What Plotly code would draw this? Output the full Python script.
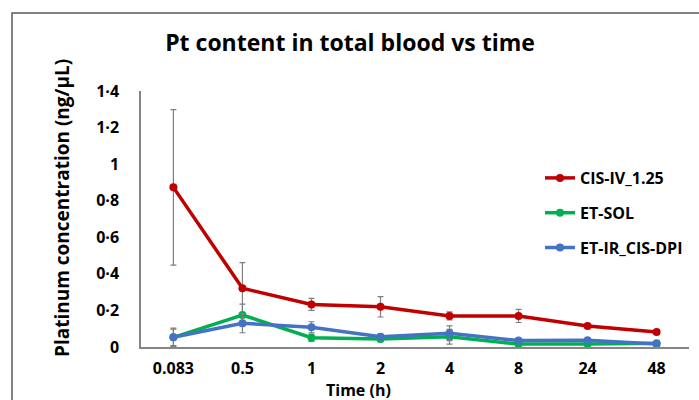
import plotly.graph_objects as go

time_labels = ["0.083", "0.5", "1", "2", "4", "8", "24", "48"]
series_names = ["CIS-IV_1.25", "ET-SOL", "ET-IR_CIS-DPI"]
cis_iv = [0.873, 0.321, 0.233, 0.220, 0.170, 0.170, 0.115, 0.082]
cis_iv_err = [0.425, 0.14, 0.033, 0.056, 0.022, 0.036, 0.008, 0.006]
et_sol = [0.053, 0.175, 0.051, 0.044, 0.056, 0.016, 0.016, 0.020]
et_sol_err = [0.045, 0.06, 0.02, 0.015, 0.04, 0.008, 0.006, 0.005]
et_ir = [0.053, 0.130, 0.108, 0.056, 0.075, 0.035, 0.037, 0.016]
et_ir_err = [0.05, 0.052, 0.03, 0.015, 0.04, 0.008, 0.006, 0.005]
y_tickvals = [0, 0.2, 0.4, 0.6, 0.8, 1.0, 1.2, 1.4]
y_ticktext = ["0", "0·2", "0·4", "0·6", "0·8", "1", "1·2", "1·4"]

colors = ["#C00000", "#00B050", "#4472C4"]
values = [cis_iv, et_sol, et_ir]
errors = [cis_iv_err, et_sol_err, et_ir_err]

FONT = "Open Sans"
fig = go.Figure()
for i, (name, ys, es, c) in enumerate(zip(series_names, values, errors, colors)):
    fig.add_trace(go.Scatter(
        x=time_labels, y=ys, name="<b>%s</b>" % name, mode="lines+markers",
        legendgroup="g%d" % i,
        line=dict(color=c, width=3.5),
        marker=dict(color=c, size=8),
        error_y=dict(type="data", array=es, visible=True, color="#7f7f7f",
                     thickness=1.2, width=3),
    ))

W, H = 699, 400
L, R, T, B = 141, 10, 91, 53
pw, ph = W - L - R, H - T - B

def px_x(x):
    return (x - L) / pw

def px_y(y):
    return (H - B - y) / ph

fig.add_shape(type="rect", xref="paper", yref="paper",
              x0=px_x(12), x1=px_x(720), y0=px_y(420), y1=px_y(13),
              line=dict(color="#595959", width=1.5), fillcolor="rgba(0,0,0,0)",
              layer="below")

fig.add_annotation(text="<b>Time (h)</b>", xref="paper", yref="paper",
                   x=px_x(358), y=px_y(390), xanchor="center", yanchor="middle",
                   showarrow=False, font=dict(size=16, family=FONT, color="black"))
fig.add_annotation(text="<b>Platinum concentration (ng/µL)</b>", xref="paper", yref="paper",
                   x=px_x(62), y=px_y(208), xanchor="center", yanchor="middle",
                   textangle=-90, showarrow=False,
                   font=dict(size=19, family=FONT, color="black"))

fig.update_layout(
    width=W, height=H,
    margin=dict(l=L, r=R, t=T, b=B),
    paper_bgcolor="white", plot_bgcolor="white",
    font=dict(family=FONT, color="black"),
    title=dict(text="<b>Pt content in total blood vs time</b>",
               font=dict(size=23, family=FONT, color="black"),
               x=(350) / W, xanchor="center", y=1 - 43 / H, yanchor="middle"),
    xaxis=dict(type="category", showline=True, linecolor="#868686", linewidth=1.5,
               showgrid=False, ticks="", tickfont=dict(size=16, family=FONT),
               tickprefix="<b>", ticksuffix="</b>", automargin=False,
               ticklabelstandoff=6),
    yaxis=dict(range=[0, 1.4], tickvals=y_tickvals,
               ticktext=["<b>%s</b>" % t for t in y_ticktext],
               showline=True, linecolor="#868686", linewidth=1.5, showgrid=False,
               zeroline=False, ticks="", tickfont=dict(size=16, family=FONT),
               ticklabelstandoff=17, automargin=False),
    legend=dict(x=px_x(540), y=px_y(161), xanchor="left", yanchor="top",
                font=dict(size=16, family=FONT), tracegroupgap=11,
                bgcolor="rgba(0,0,0,0)", itemwidth=30),
    showlegend=True,
)
fig.write_html("out.html")
